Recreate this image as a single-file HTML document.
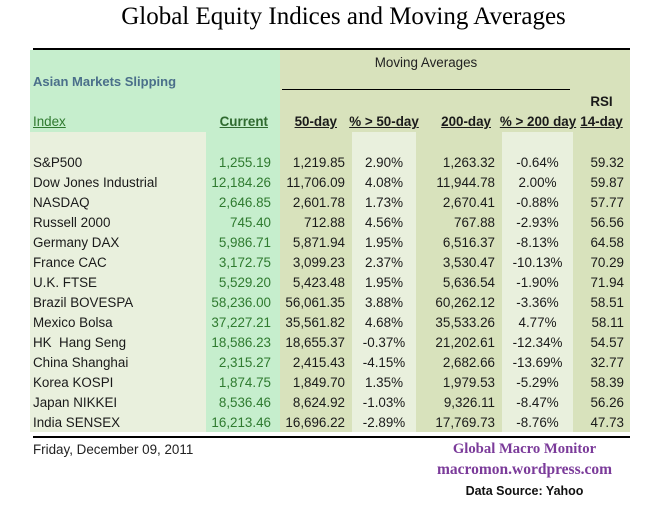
<!DOCTYPE html>
<html><head><meta charset="utf-8"><style>
body{margin:0;width:671px;height:520px;background:#fff;position:relative;overflow:hidden;font-family:"Liberation Sans",sans-serif;}
div{position:absolute;}
.t{font-size:13.4px;line-height:20px;white-space:nowrap;color:#1a1a1a;}
.r{text-align:right;}
.c{text-align:center;}
.g{color:#2f7a2f;}
.u{text-decoration:underline;font-weight:bold;}
</style></head><body>
<div style="left:8px;width:671px;top:3px;text-align:center;font-family:'Liberation Serif',serif;font-size:25px;color:#000;">Global Equity Indices and Moving Averages</div>
<div style="left:33px;top:48px;width:597px;height:2px;background:#000"></div>
<div style="left:30px;top:50px;width:250px;height:382px;background:#c6eecd"></div>
<div style="left:280px;top:50px;width:350px;height:382px;background:#d8e2bc"></div>
<div style="left:30px;top:132px;width:176px;height:300px;background:#e9f0dd"></div>
<div style="left:352px;top:132px;width:64px;height:300px;background:#e9f0dd"></div>
<div style="left:502px;top:132px;width:71px;height:300px;background:#e9f0dd"></div>
<div style="left:282px;top:89px;width:288px;height:1px;background:#000"></div>
<div style="left:33px;top:436px;width:597px;height:2px;background:#000"></div>
<div class="t" style="left:33px;top:72px;font-weight:bold;font-size:13px;color:#4a6f8a">Asian Markets Slipping</div>
<div class="t" style="left:282px;width:288px;top:53px;text-align:center;color:#222">Moving Averages</div>
<div class="t" style="left:33px;top:112px;text-decoration:underline;color:#2f7a2f">Index</div>
<div class="t r u" style="left:200px;width:68px;top:112px;color:#2f6a2f">Current</div>
<div class="t r u" style="left:270px;width:67px;top:112px">50-day</div>
<div class="t c u" style="left:346px;width:76px;top:112px">% &gt; 50-day</div>
<div class="t r u" style="left:420px;width:71px;top:112px">200-day</div>
<div class="t c u" style="left:497px;width:82px;top:112px">% &gt; 200 day</div>
<div class="t c" style="left:573px;width:57px;top:92px;font-weight:bold">RSI</div>
<div class="t c u" style="left:573px;width:57px;top:112px">14-day</div>
<div id="rows"></div>
<div class="t" style="left:33px;top:440px;color:#222">Friday, December 09, 2011</div>
<div style="left:387px;width:275px;top:441px;text-align:center;font-family:'Liberation Serif',serif;font-weight:bold;font-size:14.7px;color:#7b3b9a">Global Macro Monitor</div>
<div style="left:387px;width:275px;top:461px;text-align:center;font-family:'Liberation Serif',serif;font-weight:bold;font-size:15.5px;color:#7b3b9a">macromon.wordpress.com</div>
<div class="t" style="left:387px;width:275px;top:481px;text-align:center;font-weight:bold;font-size:12.5px;color:#111">Data Source: Yahoo</div>
<script>
var d=[["S&P500","1,255.19","1,219.85","2.90%","1,263.32","-0.64%","59.32"],
["Dow Jones Industrial","12,184.26","11,706.09","4.08%","11,944.78","2.00%","59.87"],
["NASDAQ","2,646.85","2,601.78","1.73%","2,670.41","-0.88%","57.77"],
["Russell 2000","745.40","712.88","4.56%","767.88","-2.93%","56.56"],
["Germany DAX","5,986.71","5,871.94","1.95%","6,516.37","-8.13%","64.58"],
["France CAC","3,172.75","3,099.23","2.37%","3,530.47","-10.13%","70.29"],
["U.K. FTSE","5,529.20","5,423.48","1.95%","5,636.54","-1.90%","71.94"],
["Brazil BOVESPA","58,236.00","56,061.35","3.88%","60,262.12","-3.36%","58.51"],
["Mexico Bolsa","37,227.21","35,561.82","4.68%","35,533.26","4.77%","58.11"],
["HK  Hang Seng","18,586.23","18,655.37","-0.37%","21,202.61","-12.34%","54.57"],
["China Shanghai","2,315.27","2,415.43","-4.15%","2,682.66","-13.69%","32.77"],
["Korea KOSPI","1,874.75","1,849.70","1.35%","1,979.53","-5.29%","58.39"],
["Japan NIKKEI","8,536.46","8,624.92","-1.03%","9,326.11","-8.47%","56.26"],
["India SENSEX","16,213.46","16,696.22","-2.89%","17,769.73","-8.76%","47.73"]];
var h="";
d.forEach(function(r,i){var y=153+20*i;
h+='<div class="t" style="left:33px;top:'+y+'px">'+r[0].replace("&","&amp;").replace("  ","&nbsp; ")+'</div>';
h+='<div class="t r g" style="left:200px;width:71px;top:'+y+'px">'+r[1]+'</div>';
h+='<div class="t r" style="left:270px;width:75px;top:'+y+'px">'+r[2]+'</div>';
h+='<div class="t c" style="left:352px;width:64px;top:'+y+'px">'+r[3]+'</div>';
h+='<div class="t r" style="left:416px;width:79px;top:'+y+'px">'+r[4]+'</div>';
h+='<div class="t c" style="left:502px;width:71px;top:'+y+'px">'+r[5]+'</div>';
h+='<div class="t r" style="left:573px;width:51px;top:'+y+'px">'+r[6]+'</div>';});
document.getElementById("rows").outerHTML=h;
</script>
</body></html>
